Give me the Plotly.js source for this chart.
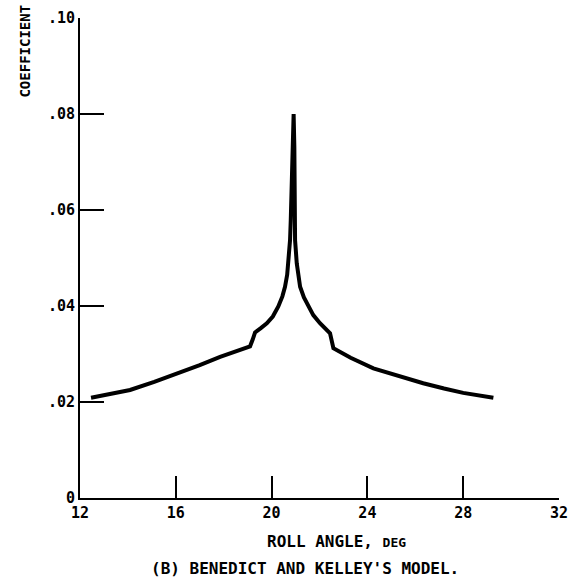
<!DOCTYPE html>
<html>
<head>
<meta charset="utf-8">
<script src="https://cdn.plot.ly/plotly-3.0.1.min.js"></script>
<style>html,body{margin:0;padding:0;background:#fff;}#chart{width:575px;height:581px;}</style>
</head>
<body>
<div id="chart"></div>
<script>
const rollAngle = [12.46, 13.2, 14.09, 15.1, 16.18, 17.0, 17.85, 18.5, 19.10, 19.21, 19.31, 19.55, 19.80, 20.05, 20.28, 20.45, 20.56, 20.65, 20.70, 20.77, 20.80, 20.85, 20.88, 20.92, 20.95, 20.97, 20.98, 21.05, 21.10, 21.19, 21.35, 21.53, 21.74, 22.02, 22.25, 22.44, 22.58, 23.3, 24.25, 25.3, 26.33, 27.2, 28.0, 29.26];
const coefficient = [0.0209, 0.0216, 0.0225, 0.0242, 0.0261, 0.0277, 0.0294, 0.0305, 0.0316, 0.0330, 0.0345, 0.0354, 0.0364, 0.0378, 0.0399, 0.0420, 0.0440, 0.0465, 0.0489, 0.0537, 0.0579, 0.066, 0.073, 0.080, 0.073, 0.064, 0.0537, 0.0489, 0.0465, 0.0440, 0.0418, 0.0400, 0.0381, 0.0364, 0.0353, 0.0343, 0.0312, 0.0292, 0.0270, 0.0254, 0.0239, 0.0228, 0.0219, 0.0209];
const xTickVals = [12, 16, 20, 24, 28, 32];
const xTickText = ["12", "16", "20", "24", "28", "32"];
const yTickVals = [0, 0.02, 0.04, 0.06, 0.08, 0.10];
const yTickText = ["0", ".02", ".04", ".06", ".08", ".10"];
const xTitle = 'ROLL ANGLE, <span style="font-size:13px">DEG</span>';
const yTitle = 'COEFFICIENT';
const caption = "(B) BENEDICT AND KELLEY'S MODEL.";

const FONT = "DejaVu Sans Mono, monospace";

const trace = {
  x: rollAngle, y: coefficient, type: 'scatter', mode: 'lines',
  line: {color: '#000', width: 4}, hoverinfo: 'skip'
};

const layout = {
  width: 575, height: 581,
  margin: {l: 80, r: 16, t: 18, b: 83},
  paper_bgcolor: '#fff', plot_bgcolor: '#fff',
  showlegend: false,
  font: {family: FONT, color: '#000', size: 15, weight: 'bold'},
  xaxis: {
    range: [12, 32], showgrid: false, zeroline: false,
    showline: true, linecolor: '#000', linewidth: 2,
    tickmode: 'array', tickvals: xTickVals, ticktext: xTickText,
    ticks: 'inside', ticklen: 22, tickwidth: 2, tickcolor: '#000',
    tickfont: {family: FONT, size: 15, color: '#000', weight: 'bold'}
  },
  yaxis: {
    range: [0, 0.10], showgrid: false, zeroline: false,
    showline: true, linecolor: '#000', linewidth: 2,
    tickmode: 'array', tickvals: yTickVals, ticktext: yTickText,
    ticks: 'inside', ticklen: 24, tickwidth: 2, tickcolor: '#000',
    tickfont: {family: FONT, size: 15, color: '#000', weight: 'bold'}
  },
  annotations: [
    {text: xTitle, xref: 'paper', yref: 'paper', x: 0.535, y: -0.09, xanchor: 'center', yanchor: 'middle', showarrow: false, font: {family: FONT, size: 16, color: '#000', weight: 'bold'}},
    {text: caption, xref: 'paper', yref: 'paper', x: 0.47, y: -0.146, xanchor: 'center', yanchor: 'middle', showarrow: false, font: {family: FONT, size: 16, color: '#000', weight: 'bold'}},
    {text: yTitle, xref: 'paper', yref: 'paper', x: -0.115, y: 0.932, xanchor: 'center', yanchor: 'middle', textangle: -90, showarrow: false, font: {family: FONT, size: 14, color: '#000', weight: 'bold'}}
  ]
};

Plotly.newPlot('chart', [trace], layout, {staticPlot: true, displayModeBar: false});
</script>
</body>
</html>
